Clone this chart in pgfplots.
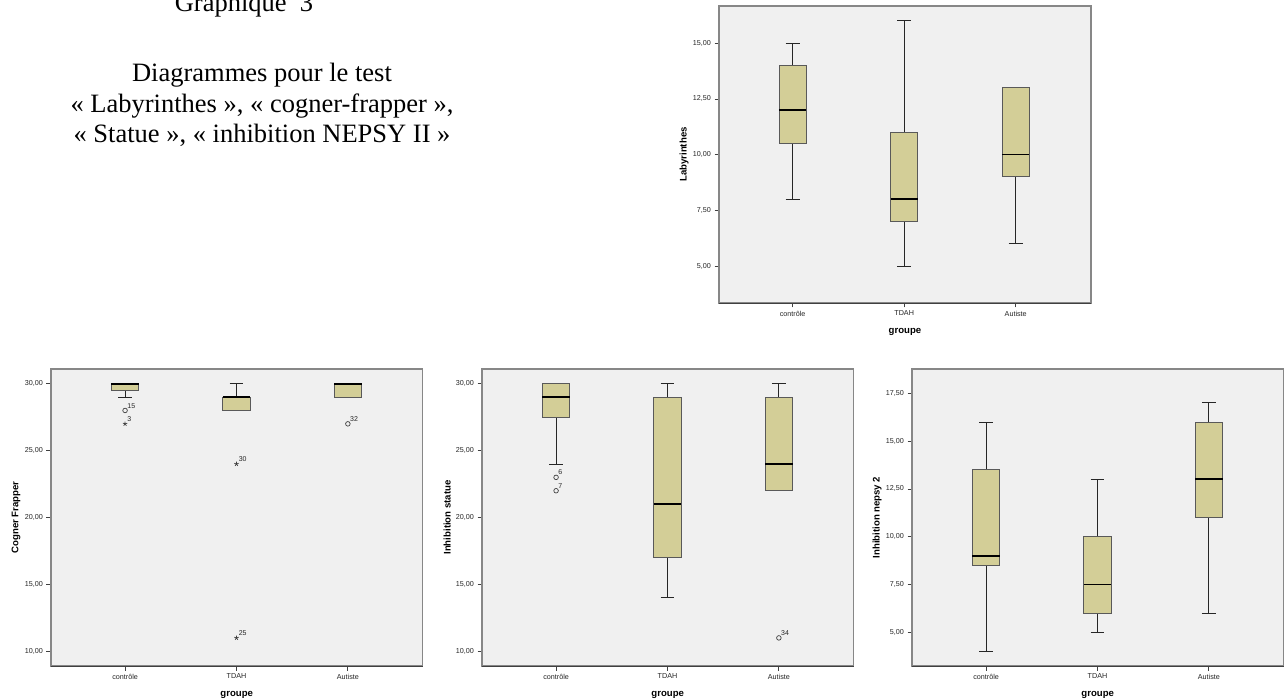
\documentclass[border=0pt]{standalone}
\usepackage{fontspec}
\setmainfont{Liberation Serif}
\newfontfamily\arial{Liberation Sans}
\usepackage{pgfplots}
\pgfplotsset{compat=1.18}
\usepgfplotslibrary{statistics}
\definecolor{boxfill}{RGB}{211,206,151}
\definecolor{bggray}{RGB}{240,240,240}
\definecolor{framegray}{RGB}{135,135,135}
\pgfplotsset{
  spss/.style={
    scale only axis, anchor=south west,
    width=371.5pt, height=297pt,
    xmin=0.335, xmax=3.67,
    xtick={1,2,3}, xticklabels={contrôle,TDAH,Autiste},
    tick pos=left, tick align=outside, major tick length=4.5pt,
    tick style={black!75, line width=0.8pt},
    axis line style={framegray, line width=1.3pt},
    axis background/.style={fill=bggray},
    tick label style={font=\arial\fontsize{7.2}{8}\selectfont, text=black!85},
    yticklabel style={/pgf/number format/.cd, fixed, fixed zerofill, precision=2, use comma, assume math mode=true},
    label style={font=\arial\bfseries\fontsize{9.6}{11}\selectfont},
    xlabel={groupe},
    xlabel style={at={(axis description cs:0.5,-0.097)}, anchor=center},
    ylabel style={at={(axis description cs:-0.094,0.5)}, anchor=center},
    boxplot/draw direction=y,
    boxplot/box extend=0.245,
    boxplot/whisker extend=0.125,
    boxplot/every box/.style={draw=black!65, fill=boxfill, line width=0.9pt},
    boxplot/every median/.style={black, line width=1.7pt},
    boxplot/every whisker/.style={black!85, line width=0.9pt},
    after end axis/.code={\draw[black!75, line width=0.9pt] (rel axis cs:0,0) -- (rel axis cs:1,0);},
  },
  outl/.style={only marks, black!75, mark size=2.3pt, mark options={line width=0.7pt},
    nodes near coords, point meta=explicit symbolic,
    nodes near coords style={anchor=south west, font=\arial\fontsize{7}{8}\selectfont, text=black!85, inner sep=0.5pt, xshift=1.5pt, yshift=1.5pt}},
}
\begin{document}
\begin{tikzpicture}
\useasboundingbox (0pt,0pt) rectangle (1287pt,699pt);
\fill[white] (0pt,0pt) rectangle (1287pt,699pt);
\node[font=\fontsize{26.5}{30.5}\selectfont, anchor=base] at (244pt,687.5pt) {Graphique\ \ 3};
\node[font=\fontsize{26.5}{30.5}\selectfont, anchor=base] at (262pt,617pt) {Diagrammes pour le test};
\node[font=\fontsize{26.5}{30.5}\selectfont, anchor=base] at (262pt,586.5pt) {« Labyrinthes », « cogner-frapper »,};
\node[font=\fontsize{26.5}{30.5}\selectfont, anchor=base] at (262pt,556pt) {« Statue », « inhibition NEPSY II »};

% Top: Labyrinthes
\begin{axis}[spss, at={(719pt,396pt)}, width=372pt, xmin=0.34, xmax=3.675,
  ymin=3.34, ymax=16.67, ytick={5,7.5,10,12.5,15}, ylabel={Labyrinthes}]
\addplot[boxplot prepared={draw position=1, median=12, lower quartile=10.5, upper quartile=14, lower whisker=8, upper whisker=15}] coordinates {};
\addplot[boxplot prepared={draw position=2, median=8, lower quartile=7, upper quartile=11, lower whisker=5, upper whisker=16}] coordinates {};
\addplot[boxplot prepared={draw position=3, median=10, lower quartile=9, upper quartile=13, lower whisker=6, upper whisker=13}] coordinates {};
\end{axis}

% Bottom left: Cogner Frapper
\begin{axis}[spss, at={(51pt,33pt)},
  ymin=8.9, ymax=31.1, ytick={10,15,20,25,30}, ylabel={Cogner Frapper}]
\addplot[boxplot prepared={draw position=1, median=30, lower quartile=29.5, upper quartile=30, lower whisker=29, upper whisker=30}] coordinates {};
\addplot[boxplot prepared={draw position=2, median=29, lower quartile=28, upper quartile=29, lower whisker=28, upper whisker=30}] coordinates {};
\addplot[boxplot prepared={draw position=3, median=30, lower quartile=29, upper quartile=30, lower whisker=29, upper whisker=30}] coordinates {};
\addplot[outl, mark=o] coordinates {(1,28) [15] (3,27) [32]};
\addplot[outl, mark=star] coordinates {(1,27) [3] (2,24) [30] (2,11) [25]};
\end{axis}

% Bottom middle: Inhibition statue
\begin{axis}[spss, at={(482pt,33pt)},
  ymin=8.9, ymax=31.1, ytick={10,15,20,25,30}, ylabel={Inhibition statue}]
\addplot[boxplot prepared={draw position=1, median=29, lower quartile=27.5, upper quartile=30, lower whisker=24, upper whisker=30}] coordinates {};
\addplot[boxplot prepared={draw position=2, median=21, lower quartile=17, upper quartile=29, lower whisker=14, upper whisker=30}] coordinates {};
\addplot[boxplot prepared={draw position=3, median=24, lower quartile=22, upper quartile=29, lower whisker=22, upper whisker=30}] coordinates {};
\addplot[outl, mark=o] coordinates {(1,23) [6] (1,22) [7] (3,11) [34]};
\end{axis}

% Bottom right: Inhibition nepsy 2
\begin{axis}[spss, at={(912pt,33pt)},
  ymin=3.24, ymax=18.77, ytick={5,7.5,10,12.5,15,17.5}, ylabel={Inhibition nepsy 2}]
\addplot[boxplot prepared={draw position=1, median=9, lower quartile=8.5, upper quartile=13.5, lower whisker=4, upper whisker=16}] coordinates {};
\addplot[boxplot prepared={draw position=2, median=7.5, lower quartile=6, upper quartile=10, lower whisker=5, upper whisker=13}] coordinates {};
\addplot[boxplot prepared={draw position=3, median=13, lower quartile=11, upper quartile=16, lower whisker=6, upper whisker=17}] coordinates {};
\end{axis}
\end{tikzpicture}
\end{document}
